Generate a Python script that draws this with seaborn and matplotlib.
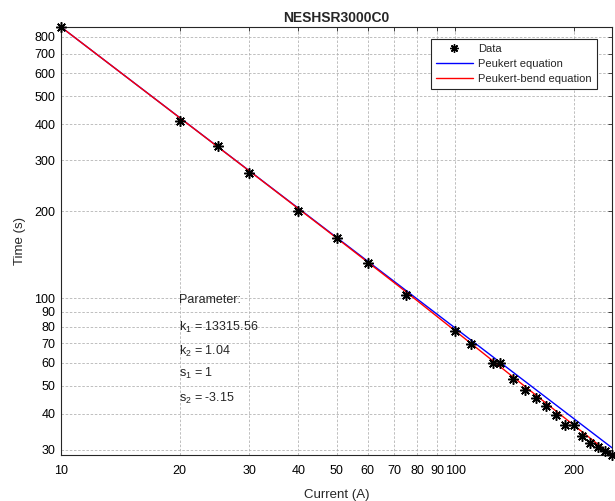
import matplotlib
matplotlib.use("Agg")
import matplotlib.pyplot as plt
from matplotlib.lines import Line2D
import seaborn as sns
import pandas as pd

# ---- data ----
current = [10, 20, 25, 30, 40, 50, 60, 75, 100, 110, 125, 130, 140, 150,
           160, 170, 180, 190, 200, 210, 220, 230, 240, 250]
time_s = [866, 411, 337, 272, 201, 162, 133, 103, 77.5, 69.5, 59.7, 59.7,
          52.5, 48.4, 45.2, 42.6, 39.5, 36.6, 36.6, 33.6, 31.8, 30.8, 29.7, 28.8]

peukert_I = [10, 250]
peukert_t = [866, 30.5]

bend_I = [10, 30, 50, 75, 100, 150, 200, 250]
bend_t = [866, 276, 161.8, 105.5, 77.3, 49.8, 36.5, 28.7]

params = ["Parameter:", "k$_1$ = 13315.56", "k$_2$ = 1.04", "s$_1$ = 1", "s$_2$ = -3.15"]
xticks = [10, 20, 30, 40, 50, 60, 70, 80, 90, 100, 200]
yticks = [30, 40, 50, 60, 70, 80, 90, 100, 200, 300, 400, 500, 600, 700, 800]

sns.set_style("white")
plt.rcParams["font.family"] = ["Liberation Sans", "DejaVu Sans"]
plt.rcParams["mathtext.default"] = "regular"

fig = plt.figure(figsize=(6.15, 5.01), dpi=100)
ax = fig.add_axes([61 / 615, 1 - 455 / 501, 551 / 615, 428 / 501])
ax.set_xscale("log")
ax.set_yscale("log")

df = pd.DataFrame({"I": current, "t": time_s})
dfp = pd.DataFrame({"I": peukert_I, "t": peukert_t})
dfb = pd.DataFrame({"I": bend_I, "t": bend_t})

sns.lineplot(data=dfp, x="I", y="t", color="#0000ff", lw=1, ax=ax, sort=False, zorder=3)
sns.lineplot(data=dfb, x="I", y="t", color="#ff0000", lw=1, ax=ax, sort=False, zorder=4)
ax.plot(df["I"], df["t"], linestyle="none", marker=(8, 2, 0), color="black",
        markersize=7.5, markeredgewidth=1.1, zorder=5, clip_on=False)

ax.set_xlim(10, 250)
ax.set_ylim(28.8, 866)
ax.set_xticks(xticks)
ax.set_xticklabels([str(v) for v in xticks])
ax.set_yticks(yticks)
ax.set_yticklabels([str(v) for v in yticks])
ax.minorticks_off()
ax.tick_params(direction="in", length=3, width=0.6, labelsize=9, top=True, right=True,
               colors="#262626", labelcolor="black", pad=4)
ax.tick_params(axis="x", pad=7.5)
ax.grid(True, which="major", color="#b4b4b4", linestyle=(0, (3, 2)), linewidth=0.6)
for s in ax.spines.values():
    s.set_color("#262626")
    s.set_linewidth(0.8)

ax.set_xlabel("Current (A)", fontsize=9.5, labelpad=8)
ax.set_ylabel("Time (s)", fontsize=9.5, labelpad=6)
ax.set_title("NESHSR3000C0", fontsize=10, fontweight="bold", pad=3.5)

ys = [0.362, 0.298, 0.243, 0.190, 0.131]
for txt, yy in zip(params, ys):
    ax.text(0.214, yy, txt, transform=ax.transAxes, fontsize=9, va="center", ha="left")

handles = [
    Line2D([], [], linestyle="none", marker=(8, 2, 0), color="black", markersize=6, markeredgewidth=1.0),
    Line2D([], [], color="#0000ff", lw=1),
    Line2D([], [], color="#ff0000", lw=1),
]
leg = ax.legend(handles, ["Data", "Peukert equation", "Peukert-bend equation"],
                loc="upper right", bbox_to_anchor=(597 / 615, 1 - 39 / 501), bbox_transform=fig.transFigure,
                fontsize=8, frameon=True, fancybox=False, framealpha=1, edgecolor="#262626",
                borderpad=0.45, handlelength=3.4, handletextpad=0.45, labelspacing=0.45, borderaxespad=0)
leg.get_frame().set_linewidth(0.8)

fig.savefig("out.png", dpi=100)
